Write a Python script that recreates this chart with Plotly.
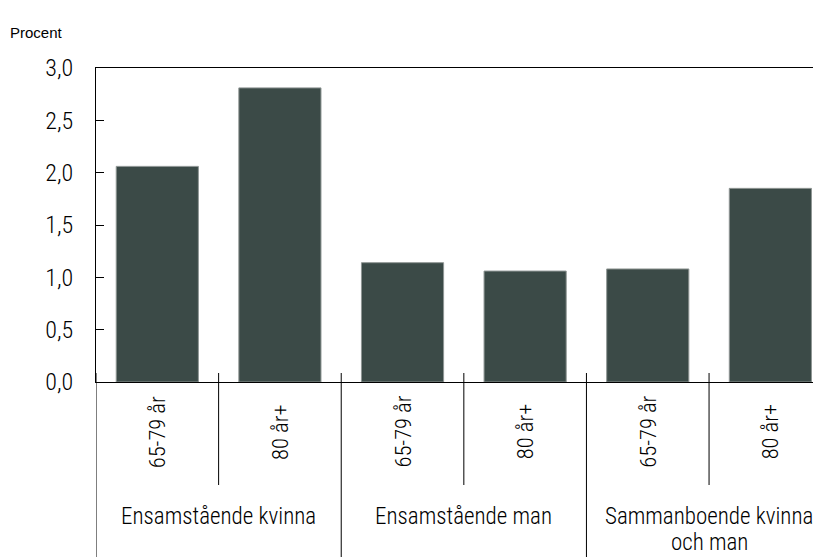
import plotly.graph_objects as go

groups = ["Ensamstående kvinna", "Ensamstående man", "Sammanboende kvinna<br>och man"]
ages = ["65-79 år", "80 år+"]
values = [2.06, 2.81, 1.14, 1.06, 1.08, 1.85]
y_ticks = [0.0, 0.5, 1.0, 1.5, 2.0, 2.5, 3.0]

n = len(values)
xs = list(range(n))
FONT = "Roboto Condensed, DejaVu Sans Condensed, sans-serif"

fig = go.Figure()
fig.add_trace(go.Bar(
    x=xs, y=values, width=0.67,
    marker=dict(color="#3b4a47", line=dict(color="#8f9694", width=1)),
    hoverinfo="y",
))

PLOT_H = 314.0
def py(page_y):
    # page pixel y -> paper coordinate (x-axis at page y=382)
    return (382.0 - page_y) / PLOT_H

shapes = []
annotations = []
for i in range(n + 1):
    xpos = i - 0.5
    y0 = py(557) if i % len(ages) == 0 else py(485)
    shapes.append(dict(type="line", xref="x", yref="paper", x0=xpos, x1=xpos,
                       y0=y0, y1=py(373), line=dict(color="black", width=1)))
for i in range(n):
    annotations.append(dict(x=i, xref="x", y=py(432), yref="paper", text=ages[i % len(ages)],
                            textangle=-90, showarrow=False, xanchor="center", yanchor="middle",
                            font=dict(family=FONT, size=22.5, color="black", weight=300)))
for g, name in enumerate(groups):
    cx = g * len(ages) + (len(ages) - 1) / 2
    for k, line in enumerate(name.split("<br>")):
        annotations.append(dict(x=cx, xref="x", y=py(516 + 26 * k), yref="paper", text=line,
                                showarrow=False, xanchor="center", yanchor="middle",
                                font=dict(family=FONT, size=23, color="black", weight=300)))
annotations.append(dict(x=-88 / 725, xref="paper", y=py(33), yref="paper", text="Procent",
                        showarrow=False, xanchor="left", yanchor="middle",
                        font=dict(family="Liberation Sans, Arial, sans-serif", size=15, color="black")))

fig.update_layout(
    width=813, height=549,
    margin=dict(l=88, r=0, t=60, b=175),
    plot_bgcolor="white", paper_bgcolor="white",
    separators=", ",
    showlegend=False,
    shapes=shapes, annotations=annotations,
)
fig.update_xaxes(range=[-0.5, 5.413], showticklabels=False, ticks="", showgrid=False,
                 zeroline=False, showline=True, linecolor="black", linewidth=1, mirror=True)
fig.update_yaxes(range=[0, 3.0], tickvals=y_ticks, tickformat=".1f", ticks="inside", ticklen=8,
                 tickcolor="black", showgrid=False, zeroline=False, showline=True,
                 linecolor="black", linewidth=1, ticklabelstandoff=17,
                 tickfont=dict(family=FONT, size=24, color="black", weight=300))

fig.write_html("out.html")
